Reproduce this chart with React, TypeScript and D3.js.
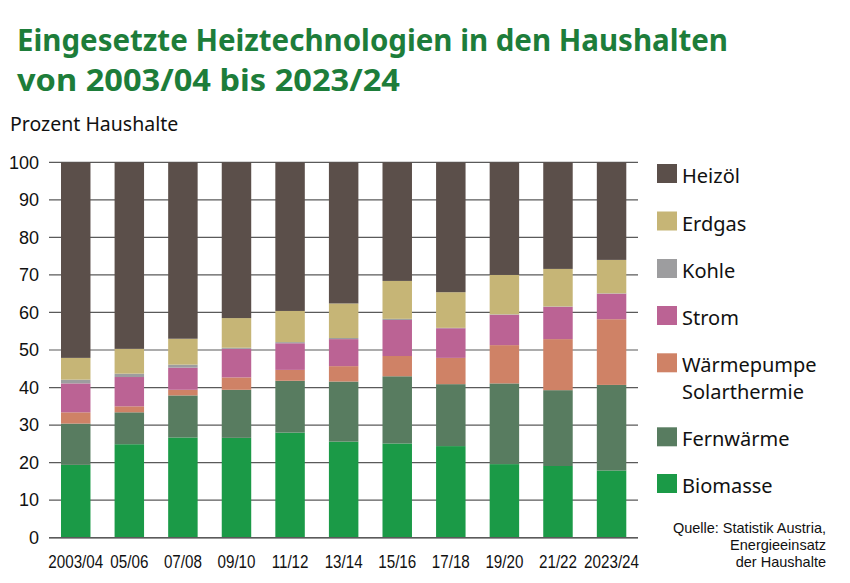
import React, { useEffect, useRef } from 'react';
import * as d3 from 'd3';

// Erhebungsjahre
const years = ['2003/04', '05/06', '07/08', '09/10', '11/12', '13/14', '15/16', '17/18', '19/20', '21/22', '2023/24'];

// Anteile in Prozent Haushalte (von unten nach oben gestapelt)
const biomasse = [19.4, 24.9, 26.7, 26.6, 28.0, 25.6, 25.1, 24.4, 19.6, 19.1, 17.9];
const fernwaerme = [11.0, 8.5, 11.2, 12.8, 13.8, 16.0, 17.9, 16.5, 21.5, 20.2, 22.8];
const waermepumpe = [3.0, 1.6, 1.5, 3.3, 2.9, 4.1, 5.4, 7.0, 10.2, 13.6, 17.5];
const strom = [7.7, 7.8, 5.9, 7.6, 7.1, 7.2, 9.6, 7.9, 8.1, 8.6, 6.8];
const kohle = [1.0, 0.9, 0.8, 0.3, 0.3, 0.3, 0.3, 0.1, 0.1, 0.1, 0.1];
const erdgas = [5.8, 6.6, 6.9, 7.9, 8.3, 9.2, 10.1, 9.5, 10.5, 10.0, 8.9];
const heizoel = [52.1, 49.7, 47.0, 41.5, 39.6, 37.6, 31.6, 34.6, 30.0, 28.4, 26.0];

const seriesKeys = ['Biomasse', 'Fernwärme', 'Wärmepumpe', 'Strom', 'Kohle', 'Erdgas', 'Heizöl'];
const seriesValues = [biomasse, fernwaerme, waermepumpe, strom, kohle, erdgas, heizoel];
const seriesColors = ['#1b9a47', '#587c60', '#cf8266', '#bb6394', '#9d9d9f', '#c6b576', '#5b4f4a'];

// Legende von oben nach unten
const legendItems = [
  { key: 'Heizöl', lines: ['Heizöl'] },
  { key: 'Erdgas', lines: ['Erdgas'] },
  { key: 'Kohle', lines: ['Kohle'] },
  { key: 'Strom', lines: ['Strom'] },
  { key: 'Wärmepumpe', lines: ['Wärmepumpe', 'Solarthermie'] },
  { key: 'Fernwärme', lines: ['Fernwärme'] },
  { key: 'Biomasse', lines: ['Biomasse'] },
];

const yTicks = [0, 10, 20, 30, 40, 50, 60, 70, 80, 90, 100];

const W = 850;
const H = 583;
const arial = '"Liberation Sans", Arial, sans-serif';
const sans = '"Noto Sans", "Open Sans", sans-serif';

const App: React.FC = () => {
  const svgRef = useRef<SVGSVGElement>(null);

  useEffect(() => {
    if (!svgRef.current) return;
    const svg = d3.select(svgRef.current);
    svg.selectAll('*').remove();

    svg.append('rect').attr('width', W).attr('height', H).attr('fill', '#ffffff');
    // heller Rand rechts und unten
    svg.append('rect').attr('x', 843).attr('y', 0).attr('width', 7).attr('height', H).attr('fill', '#ebebeb');
    svg.append('rect').attr('x', 0).attr('y', 579).attr('width', W).attr('height', 4).attr('fill', '#ebebeb');

    // Titel
    const title = svg.append('g').attr('fill', '#1d7d3a').style('font-family', sans).style('font-weight', 700).style('font-size', '30px');
    title.append('text').attr('x', 17).attr('y', 51)
      .attr('textLength', 711).attr('lengthAdjust', 'spacingAndGlyphs')
      .text('Eingesetzte Heiztechnologien in den Haushalten');
    title.append('text').attr('x', 17).attr('y', 91)
      .attr('textLength', 383).attr('lengthAdjust', 'spacingAndGlyphs')
      .text('von 2003/04 bis 2023/24');

    svg.append('text').attr('x', 10).attr('y', 131)
      .style('font-family', sans).style('font-size', '19.5px').attr('fill', '#111')
      .text('Prozent Haushalte');

    const x = d3.scaleBand<string>().domain(years).range([49, 638.3]).paddingInner(0.45).paddingOuter(0.224);
    const y = d3.scaleLinear().domain([0, 100]).range([537.7, 162.3]);

    // Gitterlinien
    svg.append('g').selectAll('line').data(yTicks).enter().append('line')
      .attr('x1', 49).attr('x2', 638)
      .attr('y1', d => y(d)).attr('y2', d => y(d))
      .attr('stroke', '#5a5a5a').attr('stroke-width', 1.2);

    svg.append('g').selectAll('text').data(yTicks).enter().append('text')
      .attr('x', 39).attr('y', d => y(d) + 6.3)
      .attr('text-anchor', 'end')
      .style('font-family', arial).style('font-size', '18px').attr('fill', '#111')
      .text(d => String(d));

    // gestapelte Balken
    const table = years.map((yr, i) => {
      const row: Record<string, any> = { year: yr };
      seriesKeys.forEach((k, j) => { row[k] = seriesValues[j][i]; });
      return row;
    });
    const stacked = d3.stack<Record<string, any>>().keys(seriesKeys)(table);
    const color = d3.scaleOrdinal<string, string>().domain(seriesKeys).range(seriesColors);

    svg.append('g').selectAll('g').data(stacked).enter().append('g')
      .attr('fill', d => color(d.key))
      .selectAll('rect').data(d => d).enter().append('rect')
      .attr('x', d => x(d.data.year as string)!)
      .attr('width', x.bandwidth())
      .attr('y', d => y(d[1]))
      .attr('height', d => y(d[0]) - y(d[1]));

    // Nulllinie über den Balken
    svg.append('line').attr('x1', 49).attr('x2', 638).attr('y1', y(0)).attr('y2', y(0))
      .attr('stroke', '#5a5a5a').attr('stroke-width', 1.4);

    // x-Achse (schmal gesetzt)
    svg.append('g').selectAll('text').data(years).enter().append('text')
      .attr('transform', d => `translate(${x(d)! + x.bandwidth() / 2},568) scale(0.8,1)`)
      .attr('text-anchor', 'middle')
      .style('font-family', arial).style('font-size', '19px').attr('fill', '#111')
      .text(d => d);

    // Legende
    const legendTops = [164, 211.5, 259, 306, 353.3, 427.3, 474];
    const lg = svg.append('g');
    legendItems.forEach((item, i) => {
      const top = legendTops[i];
      lg.append('rect').attr('x', 657).attr('y', top).attr('width', 20).attr('height', 19)
        .attr('fill', color(item.key));
      item.lines.forEach((ln, j) => {
        lg.append('text').attr('x', 682).attr('y', top + 19 + j * 26.5)
          .style('font-family', sans).style('font-size', '20px').attr('fill', '#111')
          .text(ln);
      });
    });

    // Quelle
    const src = ['Quelle: Statistik Austria,', 'Energieeinsatz', 'der Haushalte'];
    svg.append('g').selectAll('text').data(src).enter().append('text')
      .attr('x', 826).attr('y', (d, i) => 533 + i * 17)
      .attr('text-anchor', 'end')
      .style('font-family', arial).style('font-size', '14.5px').attr('fill', '#111')
      .text(d => d);
  }, []);

  return (
    <div style={{ margin: -8, width: W, height: H }}>
      <svg ref={svgRef} width={W} height={H} style={{ display: 'block' }} />
    </div>
  );
};

export default App;
